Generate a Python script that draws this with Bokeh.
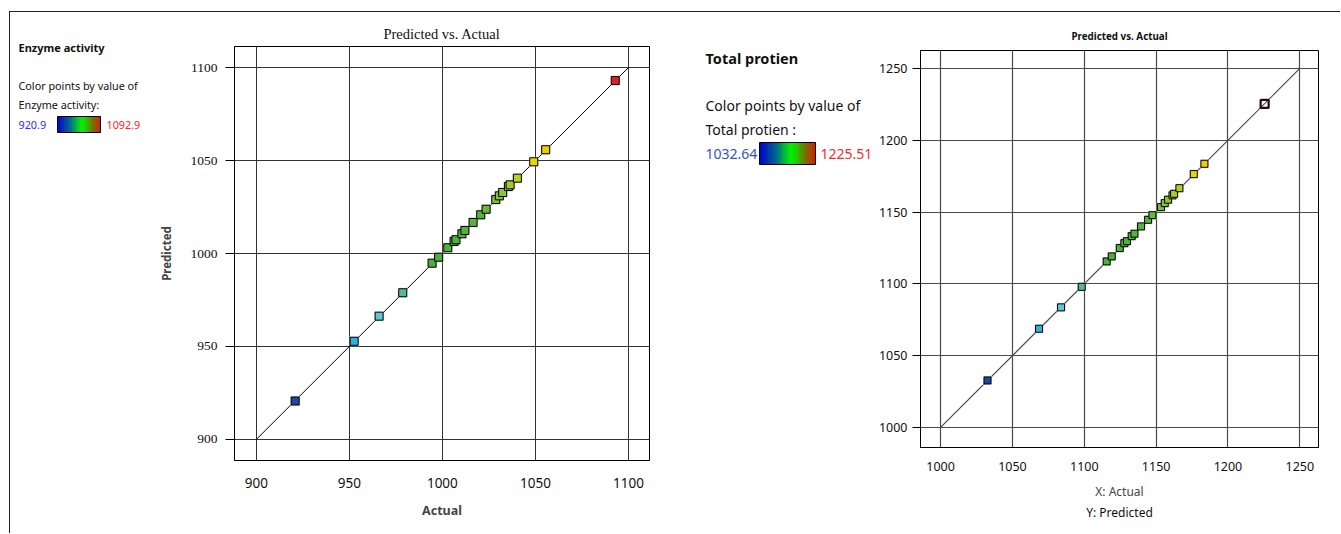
import numpy as np
from bokeh.plotting import figure
from bokeh.models import Range1d, FixedTicker, LinearColorMapper, Title, ColumnDataSource, Row
from bokeh.embed import file_html
from bokeh.resources import INLINE
from bokeh.transform import transform
from bokeh.core.properties import value

# ---------------- data ----------------
enz_actual = [920.9, 952.6, 966.0, 978.7, 994.5, 998.0, 1002.9, 1006.3, 1007.3, 1010.5,
              1012.1, 1016.5, 1020.6, 1023.5, 1028.7, 1030.6, 1032.4, 1035.5, 1036.4,
              1040.3, 1049.1, 1055.5, 1092.9]
enz_pred = [920.7, 952.8, 966.3, 978.9, 994.8, 998.0, 1003.1, 1006.5, 1007.4, 1010.6,
            1012.4, 1016.7, 1020.8, 1023.8, 1029.0, 1031.0, 1032.8, 1036.0, 1036.9,
            1040.5, 1049.3, 1055.8, 1093.0]
prot_actual = [1032.64, 1068.5, 1083.8, 1098.2, 1115.6, 1119.1, 1124.7, 1127.9, 1129.7,
               1133.0, 1134.9, 1139.5, 1144.4, 1147.4, 1153.4, 1156.0, 1158.3, 1161.4,
               1162.5, 1166.2, 1176.2, 1183.6, 1225.51]
prot_pred = [1032.7, 1068.7, 1083.6, 1097.9, 1115.6, 1119.1, 1124.9, 1128.3, 1129.7,
             1133.2, 1134.9, 1140.0, 1144.6, 1147.8, 1153.4, 1156.2, 1158.6, 1161.6,
             1162.7, 1166.6, 1176.4, 1183.6, 1225.3]
enz_ticks = [900, 950, 1000, 1050, 1100]
prot_ticks = [1000, 1050, 1100, 1150, 1200, 1250]
enz_line = [900, 1100]
prot_line = [1000, 1250]
enz_limits = [920.9, 1092.9]
prot_limits = [1032.64, 1225.51]
enz_name = "Enzyme activity"
prot_name = "Total protien"

# ---------------- helpers ----------------
def interp_palette(stops, n=256):
    pos = np.array([s[0] for s in stops])
    rgb = np.array([[int(c[1:3], 16), int(c[3:5], 16), int(c[5:7], 16)] for _, c in stops], float)
    t = np.linspace(0, 1, n)
    cols = np.stack([np.interp(t, pos, rgb[:, k]) for k in range(3)], axis=1)
    return ["#%02x%02x%02x" % tuple(int(round(v)) for v in c) for c in cols]

point_pal = interp_palette([(0.0, "#1c4a9e"), (0.18, "#2eaee6"), (0.26, "#5ecad8"),
                            (0.34, "#56b98c"), (0.42, "#4cae3e"), (0.58, "#58b53a"),
                            (0.67, "#9fcb2c"), (0.74, "#e8d608"), (0.80, "#f2c800"),
                            (1.0, "#e21f1f")])
bar_pal = interp_palette([(0.0, "#0000c8"), (0.3, "#006a8a"), (0.55, "#00f000"),
                          (0.62, "#10e000"), (0.8, "#6a7a00"), (1.0, "#d02000")], 64)

SANS = "Noto Sans"
SERIF = "Liberation Serif"
H = 521


def legend_fig(width):
    f = figure(width=width, height=H, x_range=Range1d(0, width), y_range=Range1d(H, 0),
               toolbar_location=None, output_backend="svg", min_border=0,
               x_axis_type=None, y_axis_type=None)
    f.grid.visible = False
    f.outline_line_color = None
    f.background_fill_color = "white"
    f.border_fill_color = "white"
    return f


def txt(f, x, y, s, size, color="#111111", bold=False):
    f.text(x=[x], y=[y], text=[s], text_font=value(SANS), text_font_size=size,
           text_font_style="bold" if bold else "normal", text_color=color,
           text_baseline="middle", text_align="left")


def colorbar(f, x0, x1, y0, y1):
    n = len(bar_pal)
    edges = np.linspace(x0, x1, n + 1)
    step = edges[1] - edges[0]
    rights = np.minimum(edges[1:] + step * 0.8, x1)
    f.quad(left=edges[:-1], right=rights, bottom=y1, top=y0, fill_color=bar_pal,
           line_color=None)
    f.quad(left=[x0], right=[x1], bottom=[y1], top=[y0], fill_color=None,
           line_color="black", line_width=1)


# ---------------- legend 1 ----------------
legA = legend_fig(140)
txt(legA, 8, 35, enz_name, "11px", bold=True)
txt(legA, 8, 73, "Color points by value of", "10.8px")
txt(legA, 8, 92, enz_name + ":", "10.8px")
txt(legA, 8, 112, "%.1f" % enz_limits[0], "10.8px", color="#2b2bff")
colorbar(legA, 47, 90, 104, 120)
txt(legA, 96, 112, "%.1f" % enz_limits[1], "10.8px", color="#ff2020")

# ---------------- plot 1 ----------------
def base_plot(width, xr, yr, ticks, mbl, mbr, mbt, mbb):
    p = figure(width=width, height=H, x_range=Range1d(*xr), y_range=Range1d(*yr),
               toolbar_location=None, output_backend="svg",
               min_border_left=mbl, min_border_right=mbr, min_border_top=mbt,
               min_border_bottom=mbb)
    p.background_fill_color = "white"
    p.border_fill_color = "white"
    p.outline_line_color = "black"
    p.outline_line_width = 1
    for ax in (p.xaxis[0], p.yaxis[0]):
        ax.ticker = FixedTicker(ticks=ticks)
        ax.minor_tick_line_color = None
        ax.major_tick_in = 0
        ax.axis_line_color = "black"
        ax.major_tick_line_color = "black"
    p.xaxis.major_tick_out = 0
    return p

pB = base_plot(520, (888.3, 1111.3), (888.7, 1111.3), enz_ticks, 84, 21, 34, H - 34 - 414)
pB.grid.grid_line_color = "#333333"
pB.grid.grid_line_width = 1
pB.yaxis.major_tick_out = 9
pB.yaxis.major_label_standoff = 8
pB.yaxis.major_label_text_font = SERIF
pB.yaxis.major_label_text_font_size = "13.5px"
pB.yaxis.major_label_text_color = "#111111"
pB.xaxis.major_label_text_font = SANS
pB.xaxis.major_label_text_font_size = "13.5px"
pB.xaxis.major_label_text_color = "#111111"
pB.xaxis.major_label_standoff = 17
pB.yaxis.axis_label = "Predicted"
pB.yaxis.axis_label_text_font = SANS
pB.yaxis.axis_label_text_font_size = "11.5px"
pB.yaxis.axis_label_text_font_style = "bold"
pB.yaxis.axis_label_standoff = 14
pB.xaxis.axis_label = "Actual"
pB.xaxis.axis_label_text_font = SANS
pB.xaxis.axis_label_text_font_size = "12.5px"
pB.xaxis.axis_label_text_font_style = "bold"
pB.xaxis.axis_label_standoff = 11
pB.title.text = "Predicted vs. Actual"
pB.title.align = "center"
pB.title.text_font = SERIF
pB.title.text_font_size = "14.5px"
pB.title.text_font_style = "normal"
pB.title.text_color = "#111111"
pB.title.standoff = 9

mapB = LinearColorMapper(palette=point_pal, low=enz_limits[0], high=enz_limits[1])
srcB = ColumnDataSource(dict(x=enz_actual, y=enz_pred))
pB.line(x=enz_line, y=enz_line, line_color="black", line_width=1)
pB.scatter(x="x", y="y", source=srcB, marker="square", size=10, fill_color="#bdbdbd",
           fill_alpha=0.55, line_color=None)
pB.scatter(x="x", y="y", source=srcB, marker="square", size=8,
           fill_color=transform("x", mapB), line_color="black", line_width=1)

# ---------------- legend 2 ----------------
legC = legend_fig(205)
txt(legC, 35, 45, prot_name, "14.5px", bold=True)
txt(legC, 35, 93, "Color points by value of", "14px")
txt(legC, 35, 117, prot_name + " :", "14px")
txt(legC, 35, 141, "%.2f" % prot_limits[0], "14px", color="#3355bb")
colorbar(legC, 89, 145, 130, 152)
txt(legC, 150, 141, "%.2f" % prot_limits[1], "14px", color="#ee3030")

# ---------------- plot 2 ----------------
pD = base_plot(465, (986.0, 1263.0), (986.0, 1262.5), prot_ticks, 45, 22, 38, H - 38 - 397)
pD.grid.grid_line_color = "#4a4a4a"
pD.grid.grid_line_width = 1.2
pD.yaxis.major_tick_out = 8
pD.yaxis.major_label_standoff = 5
for ax in (pD.xaxis[0], pD.yaxis[0]):
    ax.major_label_text_font = SANS
    ax.major_label_text_font_size = "12.5px"
    ax.major_label_text_color = "#111111"
pD.xaxis.major_label_standoff = 14
pD.xaxis.axis_label = "X: Actual"
pD.xaxis.axis_label_text_font = SANS
pD.xaxis.axis_label_text_font_size = "12px"
pD.xaxis.axis_label_text_font_style = "normal"
pD.xaxis.axis_label_standoff = 9
ytitle = Title(text="Y: Predicted", align="center", text_font=SANS,
               text_font_size="12px", text_font_style="normal",
               text_color="#111111", standoff=0, text_line_height=0.9)
try:
    ytitle.standoff = -2
except Exception:
    pass
pD.add_layout(ytitle, "below")
pD.title.text = "Predicted vs. Actual"
pD.title.align = "center"
pD.title.text_font = SANS
pD.title.text_font_size = "9.8px"
pD.title.text_font_style = "bold"
pD.title.text_color = "#111111"
pD.title.standoff = 16

mapD = LinearColorMapper(palette=point_pal, low=prot_limits[0], high=prot_limits[1])
srcD = ColumnDataSource(dict(x=prot_actual[:-1], y=prot_pred[:-1]))
pD.line(x=prot_line, y=prot_line, line_color="#4a4a4a", line_width=1.2)
pD.scatter(x="x", y="y", source=srcD, marker="square", size=9, fill_color="#bdbdbd",
           fill_alpha=0.55, line_color=None)
pD.scatter(x="x", y="y", source=srcD, marker="square", size=7,
           fill_color=transform("x", mapD), line_color="black", line_width=1)
pD.scatter(x=prot_actual[-1:], y=prot_pred[-1:], marker="square", size=8,
           fill_color=None, line_color="#2a0808", line_width=2.2)

figs = [legA, pB, legC, pD]
for f in figs:
    try:
        f.frame_align = False
    except Exception:
        pass

layout = Row(children=figs, spacing=0, margin=(11, 0, 0, 9),
             styles={"border-top": "1px solid #222222", "border-left": "1px solid #222222"})

open("out.html", "w").write(file_html(layout, INLINE))
